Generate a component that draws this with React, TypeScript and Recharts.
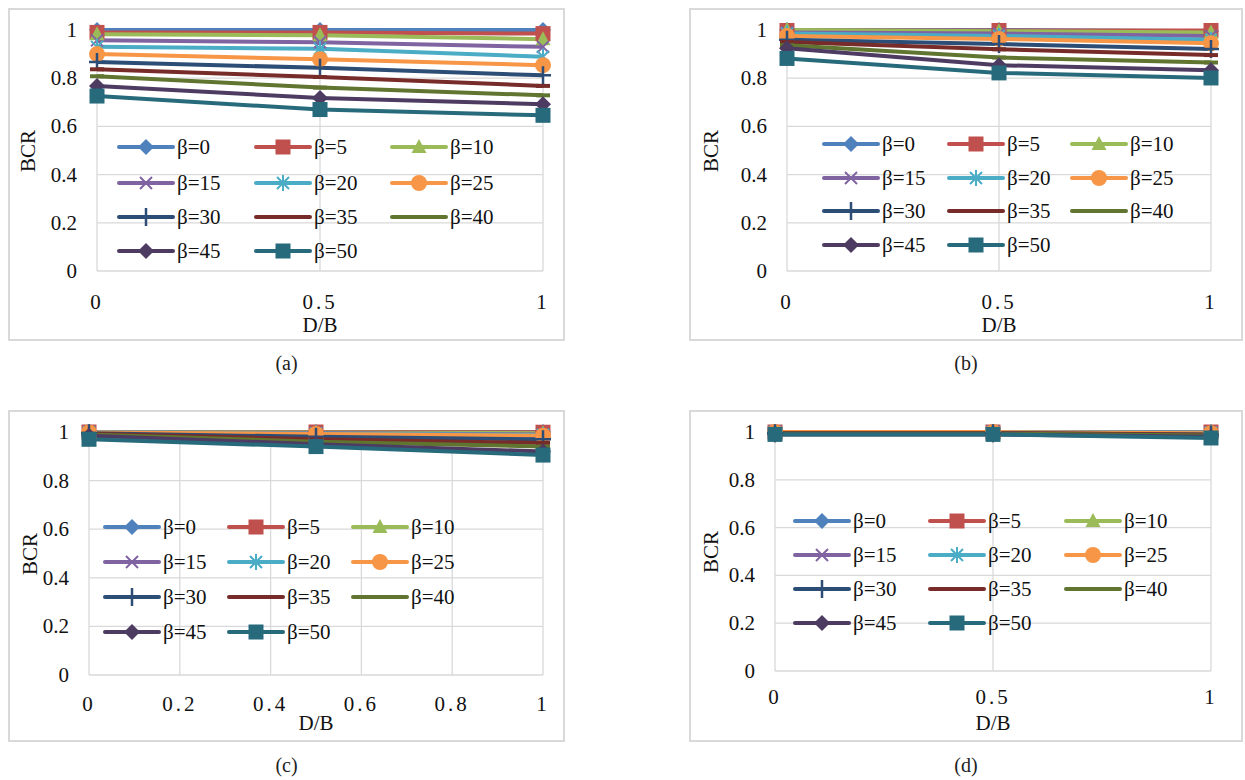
import React from 'react';
import { LineChart, Line, XAxis, YAxis, CartesianGrid, Legend } from 'recharts';

const FONT = "'Liberation Serif', 'Times New Roman', serif";

const betas = [0, 5, 10, 15, 20, 25, 30, 35, 40, 45, 50];
const xVals = [0, 0.5, 1];
const yTicks = [0, 0.2, 0.4, 0.6, 0.8, 1];
const xTicksHalf = [0, 0.5, 1];
const xTicksFifth = [0, 0.2, 0.4, 0.6, 0.8, 1];

const colors = ['#4F81BD', '#C0504D', '#9BBB59', '#8064A2', '#4BACC6', '#F79646', '#2C4D75', '#772C2A', '#5F7530', '#4D3B62', '#276A7C'];
const shapes = ['diamond', 'square', 'triangle', 'x', 'star', 'circle', 'plus', 'dash', 'dash', 'diamond', 'square'];

// BCR at D/B = 0, 0.5, 1, one row per beta
const bcrA = [
  [1.0, 1.0, 1.0],
  [0.99, 0.99, 0.985],
  [0.982, 0.978, 0.962],
  [0.957, 0.949, 0.93],
  [0.93, 0.922, 0.889],
  [0.9, 0.879, 0.854],
  [0.867, 0.843, 0.812],
  [0.837, 0.805, 0.768],
  [0.808, 0.761, 0.729],
  [0.768, 0.718, 0.692],
  [0.726, 0.67, 0.646],
];
const bcrB = [
  [1.0, 1.0, 0.995],
  [0.998, 0.998, 0.998],
  [1.0, 0.995, 0.99],
  [0.99, 0.985, 0.975],
  [0.985, 0.975, 0.96],
  [0.975, 0.963, 0.945],
  [0.96, 0.942, 0.921],
  [0.95, 0.92, 0.896],
  [0.937, 0.886, 0.865],
  [0.924, 0.854, 0.833],
  [0.882, 0.822, 0.801],
];
const bcrC = [
  [1.0, 1.0, 1.0],
  [1.0, 1.0, 0.999],
  [1.0, 0.998, 0.995],
  [0.999, 0.996, 0.99],
  [0.999, 0.994, 0.988],
  [0.998, 0.992, 0.985],
  [0.995, 0.98, 0.97],
  [0.993, 0.97, 0.955],
  [0.99, 0.96, 0.94],
  [0.985, 0.95, 0.92],
  [0.97, 0.94, 0.905],
];
const bcrD = [
  [1.0, 1.0, 1.0],
  [1.0, 1.0, 1.0],
  [1.0, 1.0, 0.999],
  [1.0, 1.0, 0.998],
  [1.0, 1.0, 0.997],
  [1.0, 1.0, 0.995],
  [0.995, 0.995, 0.99],
  [0.995, 0.995, 0.988],
  [0.993, 0.993, 0.985],
  [0.99, 0.99, 0.98],
  [0.99, 0.99, 0.975],
];

type Cfg = {
  caption: string;
  bcr: number[][];
  xTicks: number[];
  box: number[]; // left top right bottom
  plot: number[];
  legendCols: number[];
  legendRows: number[];
  yLabelX: number;
  xTickY: number;
  xTitleY: number;
  captionY: number;
};

const panels: Cfg[] = [
  {
    caption: '(a)', bcr: bcrA, xTicks: xTicksHalf,
    box: [8, 8, 565, 341], plot: [97, 30, 543, 271],
    legendCols: [119, 256, 392], legendRows: [147, 183, 217, 251],
    yLabelX: 28, xTickY: 302, xTitleY: 325, captionY: 363,
  },
  {
    caption: '(b)', bcr: bcrB, xTicks: xTicksHalf,
    box: [689, 8, 1243, 341], plot: [787, 30, 1211, 271],
    legendCols: [824, 949, 1072], legendRows: [144, 178, 211, 245],
    yLabelX: 711, xTickY: 302, xTitleY: 325, captionY: 363,
  },
  {
    caption: '(c)', bcr: bcrC, xTicks: xTicksFifth,
    box: [8, 410, 565, 742], plot: [89, 432, 543, 675],
    legendCols: [105, 229, 353], legendRows: [527, 562, 597, 632],
    yLabelX: 30, xTickY: 704, xTitleY: 723, captionY: 765,
  },
  {
    caption: '(d)', bcr: bcrD, xTicks: xTicksHalf,
    box: [689, 410, 1243, 742], plot: [775, 432, 1211, 671],
    legendCols: [795, 930, 1066], legendRows: [521, 555, 589, 623],
    yLabelX: 711, xTickY: 697, xTitleY: 723, captionY: 765,
  },
];

const txt: React.CSSProperties = { fontFamily: FONT, fontSize: 21 };

function Marker({ shape, x, y, color }: { shape: string; x: number; y: number; color: string }) {
  switch (shape) {
    case 'diamond':
      return <polygon points={`${x},${y - 8} ${x + 8},${y} ${x},${y + 8} ${x - 8},${y}`} fill={color} />;
    case 'square':
      return <rect x={x - 7.5} y={y - 7.5} width={15} height={15} fill={color} />;
    case 'triangle':
      return <polygon points={`${x},${y - 8} ${x + 7.5},${y + 6} ${x - 7.5},${y + 6}`} fill={color} />;
    case 'x':
      return <path d={`M${x - 6},${y - 6}L${x + 6},${y + 6}M${x - 6},${y + 6}L${x + 6},${y - 6}`} stroke={color} strokeWidth={2} />;
    case 'star':
      return <path d={`M${x - 6},${y - 6}L${x + 6},${y + 6}M${x - 6},${y + 6}L${x + 6},${y - 6}M${x},${y - 8}L${x},${y + 8}`} stroke={color} strokeWidth={2} />;
    case 'circle':
      return <circle cx={x} cy={y} r={8} fill={color} />;
    case 'plus':
      return <path d={`M${x},${y - 9}L${x},${y + 9}M${x - 8},${y}L${x + 8},${y}`} stroke={color} strokeWidth={2.5} />;
    default:
      return <path d={`M${x - 7},${y}L${x + 7},${y}`} stroke={color} strokeWidth={4} />;
  }
}

function Panel({ cfg }: { cfg: Cfg }) {
  const [bl, bt, br, bb] = cfg.box;
  const [pl, pt, pr, pb] = cfg.plot;
  const W = br - bl;
  const H = bb - bt;
  const data = xVals.map((x, i) => {
    const row: Record<string, number> = { x };
    betas.forEach((b, j) => { row['b' + b] = cfg.bcr[j][i]; });
    return row;
  });

  const legend = () => (
    <svg width={W} height={H} style={{ display: 'block' }}>
      {betas.map((b, j) => {
        const lx = cfg.legendCols[j % 3] - bl;
        const ly = cfg.legendRows[Math.floor(j / 3)] - bt;
        return (
          <g key={b}>
            <line x1={lx} y1={ly} x2={lx + 54} y2={ly} stroke={colors[j]} strokeWidth={4} strokeLinecap="round" />
            <Marker shape={shapes[j]} x={lx + 27} y={ly} color={colors[j]} />
            <text x={lx + 58} y={ly} dominantBaseline="central" fill="#111" style={txt}>{`β=${b}`}</text>
          </g>
        );
      })}
    </svg>
  );

  return (
    <>
      <div style={{ position: 'absolute', left: bl, top: bt, width: W, height: H, border: '2px solid #d9d9d9', boxSizing: 'border-box' }} />
      <div style={{ position: 'absolute', left: bl, top: bt, fontFamily: FONT }}>
        <LineChart width={W} height={H} data={data} margin={{ top: pt - bt, right: br - pr, bottom: 0, left: 0 }}>
          <CartesianGrid stroke="#d9d9d9" strokeWidth={1.3} />
          <XAxis
            dataKey="x" type="number" domain={[0, 1]} ticks={cfg.xTicks} interval={0}
            height={bb - pb} axisLine={false} tickLine={false} tickSize={0} tickMargin={0}
            tick={(p: any) => (
              <text x={p.x} y={p.y + cfg.xTickY - pb} textAnchor="middle" dominantBaseline="central"
                fill="#111" letterSpacing={3} style={txt}>{String(p.payload.value)}</text>
            )}
          />
          <YAxis
            type="number" domain={[0, 1]} ticks={yTicks} interval={0}
            width={pl - bl} axisLine={false} tickLine={false} tickSize={0} tickMargin={0}
            tick={(p: any) => (
              <text x={p.x - 20} y={p.y} textAnchor="end" dominantBaseline="central"
                fill="#111" style={txt}>{String(p.payload.value)}</text>
            )}
          />
          <Legend layout="vertical" align="center" verticalAlign="middle"
            wrapperStyle={{ left: 0, top: 0, width: W, height: H, pointerEvents: 'none' }}
            content={legend} />
          {betas.map((b, j) => (
            <Line
              key={b} dataKey={'b' + b} type="linear" stroke={colors[j]} strokeWidth={4}
              strokeLinejoin="round" isAnimationActive={false} activeDot={false}
              dot={(p: any) => <Marker key={`d${b}-${p.index}`} shape={shapes[j]} x={p.cx} y={p.cy} color={colors[j]} />}
            />
          ))}
        </LineChart>
      </div>
      <div style={{ ...txt, position: 'absolute', left: cfg.yLabelX, top: (pt + pb) / 2, transform: 'translate(-50%, -50%) rotate(-90deg)', color: '#111', whiteSpace: 'nowrap', lineHeight: 1 }}>BCR</div>
      <div style={{ ...txt, position: 'absolute', left: (pl + pr) / 2, top: cfg.xTitleY, transform: 'translate(-50%, -50%)', color: '#111', whiteSpace: 'nowrap', lineHeight: 1 }}>D/B</div>
      <div style={{ fontFamily: FONT, fontSize: 20, position: 'absolute', left: (bl + br) / 2, top: cfg.captionY, transform: 'translate(-50%, -50%)', color: '#222', whiteSpace: 'nowrap', lineHeight: 1 }}>{cfg.caption}</div>
    </>
  );
}

export default function App() {
  return (
    <div style={{ position: 'absolute', left: 0, top: 0, width: 1245, height: 780, background: '#fff' }}>
      {panels.map((cfg) => <Panel key={cfg.caption} cfg={cfg} />)}
    </div>
  );
}
